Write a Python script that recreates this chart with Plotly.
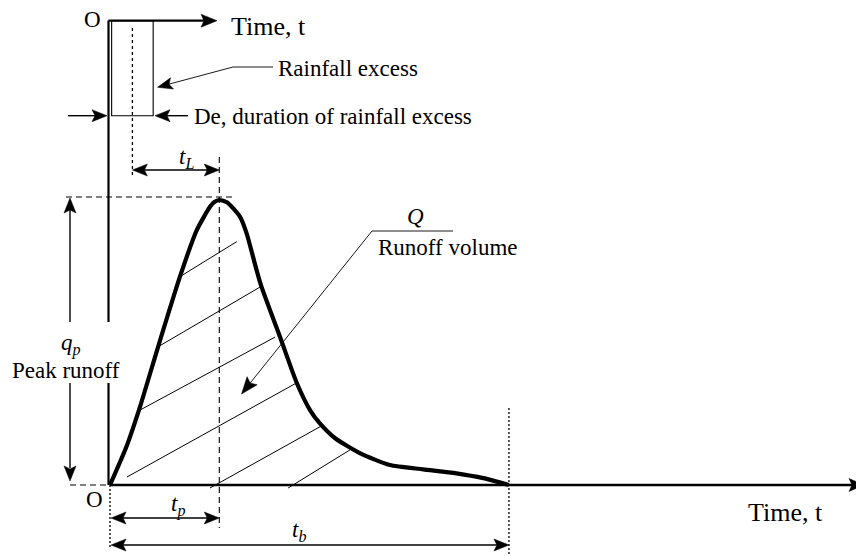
import math
import plotly.graph_objects as go

# ---------------- data (hydrograph) ----------------
time_h = [0, 0.3, 0.55, 0.88, 1.28, 1.59, 1.83, 1.91, 2.0, 2.14, 2.38, 2.5, 2.75, 3.11,
          3.42, 3.66, 3.84, 4.12, 4.58, 5.12, 5.73, 6.34, 6.83, 7.3]
flow = [0, 13.4, 27.5, 48.5, 73.1, 89.5, 97.6, 99.3, 100, 99.2, 94.1, 88.3, 70.8, 52.0,
        35.7, 26.3, 21.6, 16.4, 11.1, 7.0, 5.5, 4.1, 2.4, 0]
t_peak = 2.0          # t_p
t_base = 7.3          # t_b
q_peak = 100          # q_p
rain_start = 0.03     # rainfall excess block
rain_end = 0.79
rain_centroid = (rain_start + rain_end) / 2

# hatch segments (time, flow) of the shaded runoff volume
hatch_t0 = [1.28, 0.88, 0.55, 0.31, 1.83, 3.26]
hatch_q0 = [73.1, 48.5, 26.3, 2.8, -1.05, -1.05]
hatch_t1 = [2.32, 2.75, 3.02, 3.44, 3.90, 4.39]
hatch_q1 = [85.4, 69.5, 51.9, 36.1, 21.05, 12.3]

label_time = "Time, t"
label_rain = "Rainfall excess"
label_de = "De, duration of rainfall excess"
label_q = "<i>Q</i>"
label_volume = "Runoff volume"
label_qp = "<i>q</i><sub><i>p</i></sub>"
label_peak = "Peak runoff"
label_tl = "<i>t</i><sub><i>L</i></sub>"
label_tp = "<i>t</i><sub><i>p</i></sub>"
label_tb = "<i>t</i><sub><i>b</i></sub>"
label_origin = "O"

# ---------------- layout geometry (screen pixels of the 864x556 page) ----------------
W, H = 864, 556
PAGE_OFF = 8          # default body margin of the html page
X0_PX, Y0_PX = 110.0, 485.0
PX_PER_T = 54.65
PX_PER_Q = 2.85


def X(px):
    return (px - X0_PX) / PX_PER_T


def Y(py):
    return (Y0_PX - py) / PX_PER_Q


def PX(t):
    return X0_PX + t * PX_PER_T


def PY(q):
    return Y0_PX - q * PX_PER_Q


FONT = "Liberation Serif, Times New Roman, serif"
BLACK = "black"

fig = go.Figure()
fig.add_trace(go.Scatter(x=time_h, y=flow, mode="lines",
                         line=dict(color=BLACK, width=4.2, shape="spline", smoothing=0.6),
                         hoverinfo="skip", showlegend=False))

shapes = []
annotations = []


def seg(x0, y0, x1, y1, width=1.0, dash="solid"):
    shapes.append(dict(type="line", xref="x", yref="y", x0=x0, y0=y0, x1=x1, y1=y1,
                       line=dict(color=BLACK, width=width, dash=dash), layer="above"))


def head(t, q, dxp, dyp, L=15.0, w=6.0, notch=3.0):
    """filled arrowhead whose tip is at data point (t,q), pointing along pixel dir."""
    n = math.hypot(dxp, dyp)
    ux, uy = dxp / n, dyp / n
    tx, ty = PX(t), PY(q)
    bx, by = tx - L * ux, ty - L * uy
    px_, py_ = -uy, ux
    pts = [(tx, ty), (bx + w * px_, by + w * py_), (tx - (L - notch) * ux, ty - (L - notch) * uy),
           (bx - w * px_, by - w * py_)]
    path = "M " + " L ".join(f"{X(a):.5f},{Y(b):.5f}" for a, b in pts) + " Z"
    shapes.append(dict(type="path", xref="x", yref="y", path=path,
                       fillcolor=BLACK, line=dict(color=BLACK, width=0.5), layer="above"))


def text(s, px, py, size=23, xanchor="center"):
    annotations.append(dict(text=s, x=X(px), y=Y(py), xref="x", yref="y",
                            xanchor=xanchor, yanchor="middle", showarrow=False,
                            font=dict(family=FONT, size=size, color=BLACK)))


# ---- main axes ----
seg(0, 0, X(W - 8), 0, width=2.6)
head(X(W), 0, 1, 0, L=15, w=6.5)
seg(X(108.5), Y(20.5), X(108.5), Y(322), width=2.2)
seg(X(108.5), Y(383), X(108.5), 0, width=2.2)

# ---- rainfall excess block (top) ----
seg(X(108.5), Y(20.7), X(205), Y(20.7), width=2.2)
head(X(217), Y(20.7), 1, 0, L=16, w=6.5)
shapes.append(dict(type="rect", xref="x", yref="y", x0=rain_start, x1=rain_end,
                   y0=Y(20.7), y1=Y(115.7), line=dict(color=BLACK, width=1.1)))
seg(rain_centroid, Y(28), rain_centroid, Y(177), width=1.3, dash="3px,3px")

# leader to "Rainfall excess"
seg(X(273), Y(67), X(233), Y(67), width=0.9)
seg(X(233), Y(67), X(168), Y(84.4), width=0.9)
head(X(157.5), Y(87.3), -76, 20.3, L=15, w=5.8)

# De arrows
seg(X(68), Y(115.7), X(95), Y(115.7), width=1.4)
head(X(107), Y(115.7), 1, 0, L=15, w=6)
seg(X(188), Y(115.7), X(167), Y(115.7), width=1.4)
head(X(155), Y(115.7), -1, 0, L=15, w=6)

# t_L dimension
seg(X(PX(rain_centroid) + 12), Y(170), X(PX(t_peak) - 12), Y(170), width=1.4)
head(rain_centroid, Y(170), -1, 0, L=15, w=6)
head(t_peak, Y(170), 1, 0, L=15, w=6)

# peak time dashed vertical & peak flow dashed horizontal
seg(t_peak, Y(157), t_peak, Y(528), width=1.1, dash="6px,4px")
seg(X(66), Y(PY(q_peak) - 3), X(232), Y(PY(q_peak) - 3), width=1.1, dash="6px,4px")

# q_p dimension arrow
seg(X(70), Y(210), X(70), Y(322), width=1.4)
head(X(70), Y(PY(q_peak) - 2), 0, -1, L=15, w=6)
seg(X(70), Y(383), X(70), Y(468), width=1.4)
head(X(70), Y(481), 0, 1, L=15, w=6)
seg(X(70), 0, X(108), 0, width=1.1, dash="6px,4px")

# hatch lines
for a, b, c, d in zip(hatch_t0, hatch_q0, hatch_t1, hatch_q1):
    seg(a, b, c, d, width=1.0)

# Q leader
seg(X(372), Y(231), X(453), Y(231), width=0.9)
seg(X(372), Y(231), X(249), Y(384.5), width=0.9)
head(X(241.5), Y(394), -130.5, 163, L=17, w=6.5)

# bottom dimensions
seg(0, 0, 0, Y(549), width=1.3, dash="2px,2px")
seg(t_base, Y(408), t_base, Y(H), width=1.3, dash="2px,2px")
seg(X(PX(0) + 12), Y(518), X(PX(t_peak) - 12), Y(518), width=1.4)
head(X(PX(0) + 1), Y(518), -1, 0, L=15, w=6)
head(t_peak, Y(518), 1, 0, L=15, w=6)
seg(X(PX(0) + 12), Y(545), X(PX(t_base) - 12), Y(545), width=1.4)
head(X(PX(0) + 1), Y(545), -1, 0, L=15, w=6)
head(t_base, Y(545), 1, 0, L=15, w=6)

# ---- texts ----
text(label_origin, 92.5, 19)
text(label_time, 229, 26, size=26, xanchor="left")
text(label_rain, 276, 68, xanchor="left")
text(label_de, 192, 116, xanchor="left")
text(label_tl, 186, 158)
text(label_q, 415, 216)
text(label_volume, 376, 247, xanchor="left")
text(label_qp, 71, 344)
text(label_peak, 66, 370)
text(label_origin, 94, 499)
text(label_tp, 178, 505)
text(label_tb, 299, 531)
text(label_time, 785, 512, size=26)

fig.update_layout(
    width=W - PAGE_OFF, height=H - PAGE_OFF,
    margin=dict(l=0, r=0, t=0, b=0, pad=0),
    paper_bgcolor="white", plot_bgcolor="white",
    showlegend=False,
    xaxis=dict(range=[X(PAGE_OFF), X(W)], visible=False, fixedrange=True),
    yaxis=dict(range=[Y(H), Y(PAGE_OFF)], visible=False, fixedrange=True),
    shapes=shapes,
    annotations=annotations,
)

fig.write_html("out.html")
